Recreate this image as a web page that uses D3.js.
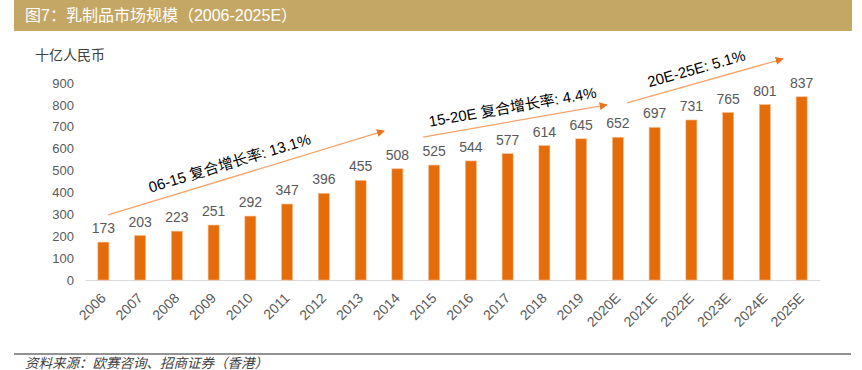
<!DOCTYPE html>
<html>
<head>
<meta charset="utf-8">
<script src="https://cdn.jsdelivr.net/npm/d3@7"></script>
<style>
  body { margin: 0; background: #fff; }
  svg { display: block; font-family: Arial, "Liberation Sans", "Noto Sans CJK SC", sans-serif; }
</style>
</head>
<body>
<div id="chart"></div>
<script>
// chart values
var years = ["2006","2007","2008","2009","2010","2011","2012","2013","2014","2015",
             "2016","2017","2018","2019","2020E","2021E","2022E","2023E","2024E","2025E"];
var marketSize = [173,203,223,251,292,347,396,455,508,525,544,577,614,645,652,697,731,765,801,837];
var yTicks = [0,100,200,300,400,500,600,700,800,900];

// growth arrows, in (bar index, value) units
var arrowFrom = [[0.13, 297], [8.7, 653], [14.25, 809]];
var arrowTo   = [[7.64, 681], [13.7, 800], [18.49, 1010]];
var arrowText = ["06-15 复合增长率: 13.1%", "15-20E 复合增长率: 4.4%", "20E-25E: 5.1%"];

var titleText = "图7：乳制品市场规模（2006-2025E）";
var unitText = "十亿人民币";
var sourceText = "资料来源：欧赛咨询、招商证券（香港）";

var W = 862, H = 370;
var svg = d3.select("#chart").append("svg")
    .attr("width", W)
    .attr("height", H);

// title bar
svg.append("rect")
    .attr("x", 14).attr("y", 0)
    .attr("width", 838).attr("height", 31)
    .attr("fill", "#C4A764");
svg.append("text")
    .attr("x", 25).attr("y", 21)
    .attr("fill", "#fff")
    .style("font-size", "16px")
    .text(titleText);

// unit label
svg.append("text")
    .attr("x", 35).attr("y", 60)
    .attr("fill", "#404040")
    .style("font-size", "14px")
    .text(unitText);

// scales
var x = d3.scaleBand()
    .domain(years)
    .range([85, 820])
    .paddingInner(0.7)
    .paddingOuter(0.35);

var xi = d3.scaleLinear()   // index -> center of band
    .domain([0, years.length - 1])
    .range([x(years[0]) + x.bandwidth() / 2, x(years[years.length - 1]) + x.bandwidth() / 2]);

var y = d3.scaleLinear()
    .domain([0, 900])
    .range([280, 83]);

// y axis (labels only)
var yAxis = svg.append("g")
    .attr("transform", "translate(74,0)")
    .call(d3.axisLeft(y).tickValues(yTicks).tickSize(0).tickPadding(0));
yAxis.select(".domain").remove();
yAxis.selectAll("text")
    .style("font-size", "13px")
    .style("font-family", "Arial, 'Liberation Sans', sans-serif")
    .attr("fill", "#595959");

// x axis
var xAxis = svg.append("g")
    .attr("transform", "translate(0,280)")
    .call(d3.axisBottom(x).tickSize(0));
xAxis.select(".domain").attr("stroke", "#d9d9d9");
xAxis.selectAll("text")
    .style("font-size", "14px")
    .style("font-family", "Arial, 'Liberation Sans', sans-serif")
    .attr("fill", "#595959")
    .attr("text-anchor", "end")
    .attr("x", 0).attr("y", 0).attr("dy", 0)
    .attr("transform", "translate(3.5,19) rotate(-45)");

// bars
svg.selectAll(".bar")
    .data(marketSize)
    .enter()
    .append("rect")
      .attr("class", "bar")
      .attr("x", function(d, i) { return x(years[i]); })
      .attr("y", function(d) { return y(d); })
      .attr("width", x.bandwidth())
      .attr("height", function(d) { return y(0) - y(d); })
      .attr("fill", "#E46C0A")
      .attr("stroke", "#F9B98A")
      .attr("stroke-width", 0.6);

// value labels
svg.selectAll(".val")
    .data(marketSize)
    .enter()
    .append("text")
      .attr("class", "val")
      .attr("x", function(d, i) { return x(years[i]) + x.bandwidth() / 2; })
      .attr("y", function(d) { return y(d) - 9; })
      .attr("text-anchor", "middle")
      .attr("fill", "#595959")
      .style("font-size", "14px")
      .text(function(d) { return d; });

// arrowhead
svg.append("defs").append("marker")
    .attr("id", "head")
    .attr("viewBox", "0 0 10 10")
    .attr("refX", 9).attr("refY", 5)
    .attr("markerWidth", 8).attr("markerHeight", 8)
    .attr("markerUnits", "userSpaceOnUse")
    .attr("orient", "auto")
  .append("path")
    .attr("d", "M0,0 L10,5 L0,10 Z")
    .attr("fill", "#E8731A");

// growth arrows + labels (label sits at fraction t along the arrow)
var labelAt = [0.455, 0.5, 0.47];
arrowFrom.forEach(function(a, k) {
  var b = arrowTo[k];
  var x1 = xi(a[0]), y1 = y(a[1]), x2 = xi(b[0]), y2 = y(b[1]);
  svg.append("line")
      .attr("x1", x1).attr("y1", y1)
      .attr("x2", x2).attr("y2", y2)
      .attr("stroke", "#F4A36A")
      .attr("stroke-width", 1.3)
      .attr("marker-end", "url(#head)");
  var ang = Math.atan2(y2 - y1, x2 - x1) * 180 / Math.PI;
  var t = labelAt[k];
  var cx = x1 + (x2 - x1) * t, cy = y1 + (y2 - y1) * t;
  svg.append("text")
      .attr("transform", "translate(" + cx + "," + cy + ") rotate(" + ang + ")")
      .attr("y", -9)
      .attr("text-anchor", "middle")
      .attr("fill", "#000")
      .style("font-size", "15px")
      .text(arrowText[k]);
});

// footer
svg.append("line")
    .attr("x1", 14).attr("x2", 851)
    .attr("y1", 354).attr("y2", 354)
    .attr("stroke", "#6e6e6e")
    .attr("stroke-width", 1.5);
svg.append("text")
    .attr("x", 25).attr("y", 368)
    .attr("fill", "#404040")
    .style("font-size", "13.5px")
    .style("font-style", "italic")
    .text(sourceText);
</script>
</body>
</html>
